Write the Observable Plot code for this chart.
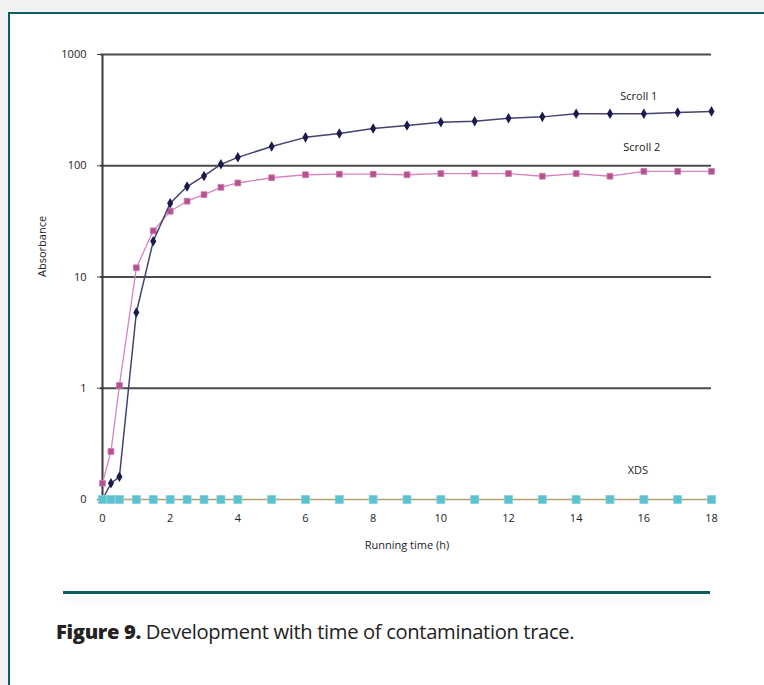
<!DOCTYPE html>
<html>
<head>
<meta charset="utf-8">
<script src="https://cdn.jsdelivr.net/npm/d3@7"></script>
<script src="https://cdn.jsdelivr.net/npm/@observablehq/plot@0.6"></script>
<style>
  html, body { margin: 0; padding: 0; width: 764px; height: 685px; overflow: hidden; background: #f2f2f2; }
  #frame { position: absolute; left: 8px; top: 12px; width: 760px; height: 680px; background: #fff;
           border-left: 2.5px solid #0b5f5c; border-top: 2.5px solid #0b5f5c; }
  #chart { position: absolute; left: 0; top: 0; }
  #rule { position: absolute; left: 63px; top: 591px; width: 647px; height: 2.5px; background: #0b5f5c;
          box-shadow: 0 5px 8px rgba(0,0,0,0.10); }
  #caption { position: absolute; left: 56px; top: 617px; font-family: "Open Sans", sans-serif; font-size: 20.2px;
             color: #222; letter-spacing: -0.35px; white-space: nowrap; }
  #caption b { font-weight: 800; }
</style>
</head>
<body>
<div id="frame"></div>
<div id="chart"></div>
<div id="rule"></div>
<div id="caption"><b>Figure 9.</b> Development with time of contamination trace.</div>
<script>
const times   = [0, 0.25, 0.5, 1, 1.5, 2, 2.5, 3, 3.5, 4, 5, 6, 7, 8, 9, 10, 11, 12, 13, 14, 15, 16, 17, 18];
const scroll1 = [0.1, 0.14, 0.16, 4.8, 21, 46, 65, 81, 103, 119, 149, 180, 195, 216, 230, 246, 251, 267, 275, 293, 293, 293, 301, 308];
const scroll2 = [0.14, 0.27, 1.06, 12.1, 26, 39, 48, 55, 64, 70, 78, 83, 84, 84, 83, 85, 85, 85, 80.5, 85, 80.5, 89, 89, 89];
const xds     = [0.1, 0.1, 0.1, 0.1, 0.1, 0.1, 0.1, 0.1, 0.1, 0.1, 0.1, 0.1, 0.1, 0.1, 0.1, 0.1, 0.1, 0.1, 0.1, 0.1, 0.1, 0.1, 0.1, 0.1];
const seriesNames = ["Scroll 1", "Scroll 2", "XDS"];
const xTicks = [0, 2, 4, 6, 8, 10, 12, 14, 16, 18];
const yTicks = [0.1, 1, 10, 100, 1000];
const yTickLabels = ["0", "1", "10", "100", "1000"];
const labelTime = 16;

const s1 = times.map((t, i) => ({t, v: scroll1[i]}));
const s2 = times.map((t, i) => ({t, v: scroll2[i]}));
const s3 = times.map((t, i) => ({t, v: xds[i]}));
const at = (arr) => arr.find(d => d.t === labelTime);

const chart = Plot.plot({
  width: 764,
  height: 560,
  marginLeft: 102,
  marginRight: 53,
  marginTop: 54,
  marginBottom: 61,
  style: { background: "transparent", fontFamily: "'Open Sans', sans-serif", fontSize: "11px", color: "#222" },
  x: { domain: [0, 18] },
  y: { type: "log", domain: [0.1, 1000] },
  marks: [
    Plot.ruleY(yTicks.slice(1), { stroke: "#4a4a4a", strokeWidth: 2.2, insetLeft: -2 }),
    Plot.ruleX([0], { y1: 0.1, y2: 1000, stroke: "#3a3a3a", strokeWidth: 2 }),
    Plot.axisY({ ticks: yTicks, tickFormat: (d) => yTickLabels[yTicks.indexOf(d)], tickSize: 5, tickPadding: 11, label: null, stroke: "#444" }),
    Plot.axisX({ ticks: xTicks, tickSize: 0, tickPadding: 15, label: null }),
    Plot.text(["Absorbance"], { frameAnchor: "left", dx: -60, rotate: -90, fontSize: 11 }),
    Plot.text(["Running time (h)"], { frameAnchor: "bottom", dy: 49, fontSize: 11 }),
    Plot.line(s2, { x: "t", y: "v", stroke: "#d884bf", strokeWidth: 1.3 }),
    Plot.dot(s2, { x: "t", y: "v", symbol: "square", r: 3.3, fill: "#b3528e", stroke: "#cf79b3", strokeWidth: 0.8 }),
    Plot.line(s1, { x: "t", y: "v", stroke: "#43436e", strokeWidth: 1.5 }),
    Plot.dot(s1.slice(1), { x: "t", y: "v", symbol: "diamond", r: 3.2, fill: "#1a1a4e" }),
    Plot.line(s3, { x: "t", y: "v", stroke: "#b3a06e", strokeWidth: 1.5 }),
    Plot.dot(s3, { x: "t", y: "v", symbol: "square", r: 4.5, fill: "#5cc2cf", stroke: "#7fd0da", strokeWidth: 0.8 }),
    Plot.text([at(s1)], { x: "t", y: "v", text: () => seriesNames[0], dx: -5, dy: -17, fontSize: 11 }),
    Plot.text([at(s2)], { x: "t", y: "v", text: () => seriesNames[1], dx: -2, dy: -24, fontSize: 11 }),
    Plot.text([at(s3)], { x: "t", y: "v", text: () => seriesNames[2], dx: -6, dy: -29, fontSize: 11 })
  ]
});
document.getElementById("chart").appendChild(chart);
</script>
</body>
</html>
